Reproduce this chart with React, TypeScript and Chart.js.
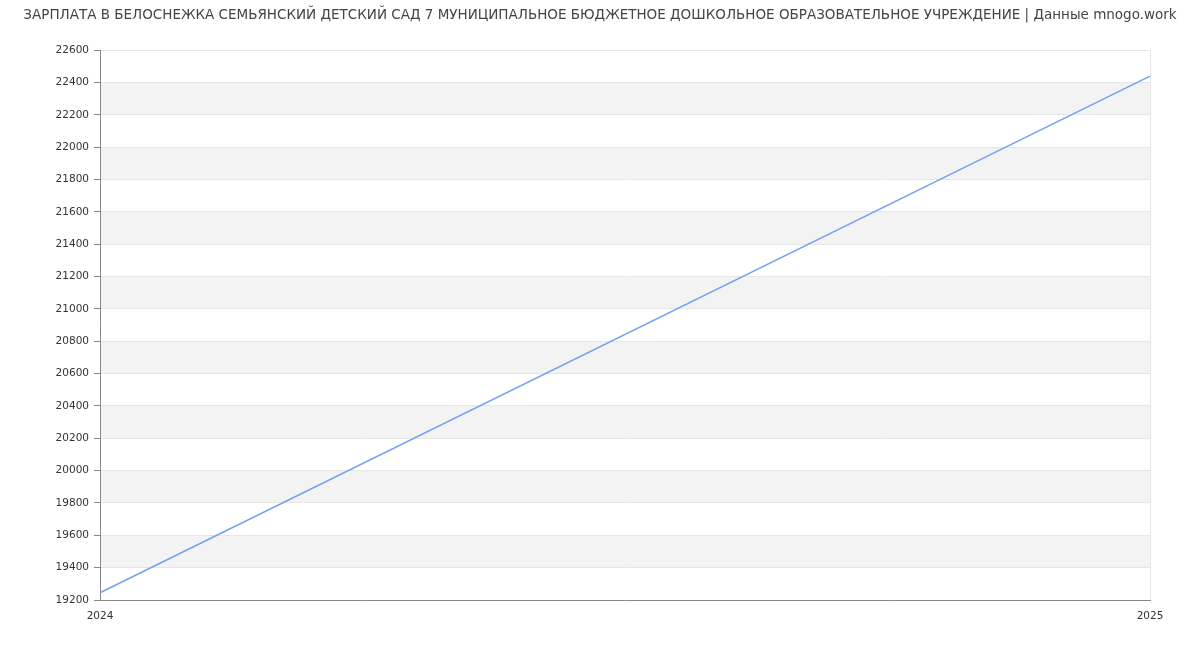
import React, { useRef, useEffect } from 'react';
import { Chart, registerables } from 'chart.js';

Chart.register(...registerables);

const title =
  'ЗАРПЛАТА В БЕЛОСНЕЖКА СЕМЬЯНСКИЙ ДЕТСКИЙ САД 7 МУНИЦИПАЛЬНОЕ БЮДЖЕТНОЕ ДОШКОЛЬНОЕ ОБРАЗОВАТЕЛЬНОЕ УЧРЕЖДЕНИЕ | Данные mnogo.work';
const years = ['2024', '2025'];
const salary = [19245, 22440];
const yMin = 19200;
const yMax = 22600;
const yStep = 200;

// grey stripes between every other pair of y ticks
const bandsPlugin = {
  id: 'bands',
  beforeDraw(chart: any) {
    const { ctx, chartArea, scales } = chart;
    const y = scales.y;
    ctx.save();
    ctx.fillStyle = '#f3f3f3';
    for (let v = yMin + yStep; v < yMax; v += yStep * 2) {
      const top = y.getPixelForValue(v + yStep);
      const bottom = y.getPixelForValue(v);
      ctx.fillRect(chartArea.left, top, chartArea.right - chartArea.left, bottom - top);
    }
    ctx.restore();
  },
};

const SalaryChart: React.FC = () => {
  const chartRef = useRef<HTMLCanvasElement | null>(null);
  const chartInstanceRef = useRef<Chart | null>(null);

  useEffect(() => {
    document.body.style.margin = '0';
    if (!chartRef.current) return;
    if (chartInstanceRef.current) {
      chartInstanceRef.current.destroy();
      chartInstanceRef.current = null;
    }
    const font = "'DejaVu Sans', sans-serif";
    chartInstanceRef.current = new Chart(chartRef.current, {
      type: 'line',
      data: {
        labels: years,
        datasets: [
          {
            data: salary,
            borderColor: '#75a0f2',
            borderWidth: 1.5,
            pointRadius: 0,
            fill: false,
            tension: 0,
          },
        ],
      },
      options: {
        animation: false,
        responsive: false,
        layout: { padding: 0 },
        plugins: {
          legend: { display: false },
          tooltip: { enabled: false },
          title: {
            display: true,
            text: title,
            color: '#444',
            font: { family: font, size: 13.5, weight: 'normal' },
            padding: { top: 7, bottom: 27 },
          },
        },
        scales: {
          x: {
            type: 'category',
            offset: false,
            grid: {
              drawTicks: false,
              color: (c: any) => (c.index === years.length - 1 ? '#e6e6e6' : 'transparent'),
            },
            border: { display: true, color: '#888' },
            ticks: {
              color: '#333',
              font: { family: font, size: 10.5 },
              padding: 10,
              maxRotation: 0,
            },
            afterFit: (s: any) => {
              s.height = 50;
            },
          },
          y: {
            min: yMin,
            max: yMax,
            ticks: {
              stepSize: yStep,
              color: '#333',
              font: { family: font, size: 10.5 },
              padding: 5,
              callback: (v: any) => String(v),
            },
            grid: { color: '#e6e6e6', tickColor: '#888', tickLength: 6 },
            border: { display: true, color: '#888' },
            afterFit: (s: any) => {
              s.width = 100;
            },
          },
          // empty right-hand axis that only reserves the right margin
          yRight: {
            position: 'right',
            min: yMin,
            max: yMax,
            grid: { display: false, drawTicks: false },
            border: { display: false },
            ticks: { display: false },
            afterFit: (s: any) => {
              s.width = 50;
            },
          },
        },
      },
      plugins: [bandsPlugin],
    });
    return () => {
      if (chartInstanceRef.current !== null) {
        chartInstanceRef.current.destroy();
        chartInstanceRef.current = null;
      }
    };
  }, []);

  return (
    <div style={{ width: 1200, height: 650 }}>
      <canvas ref={chartRef} width={1200} height={650}></canvas>
    </div>
  );
};

export default function App() {
  return <SalaryChart />;
}
